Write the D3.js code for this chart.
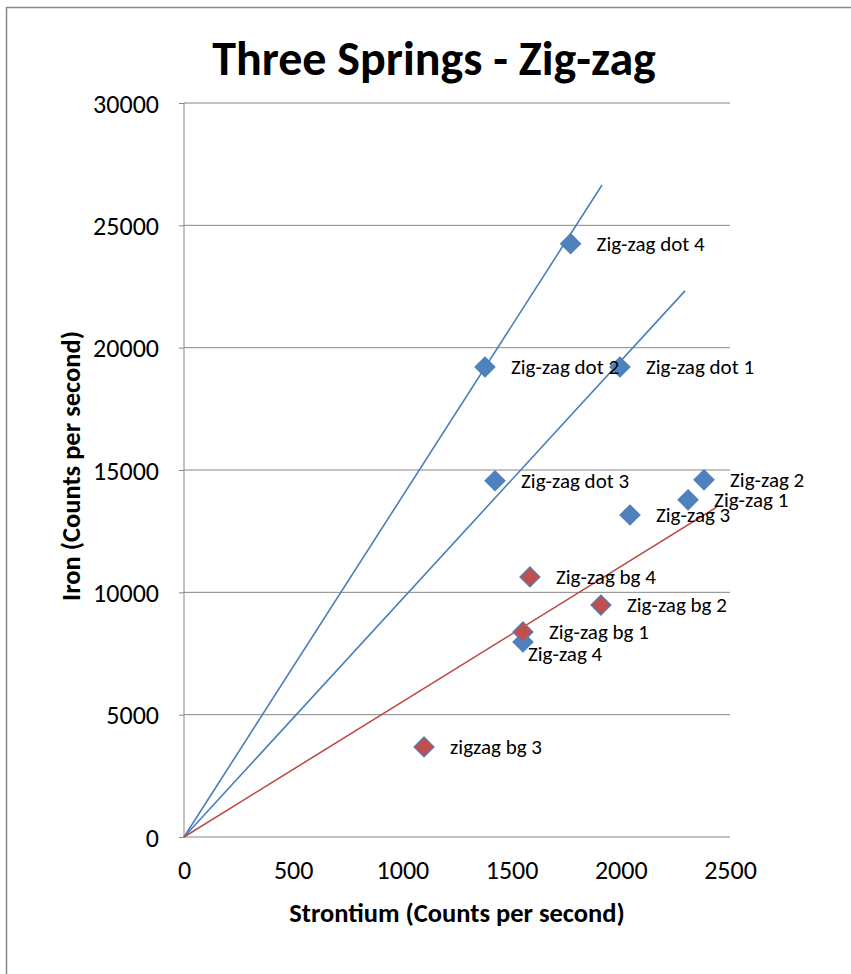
<!DOCTYPE html>
<html><head><meta charset="utf-8">
<script src="https://cdn.jsdelivr.net/npm/d3@7"></script>
<style>body{margin:0;background:#fff}svg{display:block}</style>
</head><body>
<script>
// ---- data ----
const blueNames = ["Zig-zag dot 4","Zig-zag dot 2","Zig-zag dot 1","Zig-zag dot 3","Zig-zag 2","Zig-zag 1","Zig-zag 3","Zig-zag 4"];
const blueX = [1770, 1378, 1996, 1424, 2381, 2308, 2042, 1552];
const blueY = [24250, 19210, 19210, 14560, 14600, 13780, 13160, 7970];
const redNames = ["Zig-zag bg 4","Zig-zag bg 2","Zig-zag bg 1","zigzag bg 3"];
const redX = [1584, 1909, 1552, 1099];
const redY = [10630, 9480, 8380, 3680];
// trendlines (through origin): end points
const trendEndX = [1914, 2294, 2440];
const trendEndY = [26650, 22320, 13490];
const trendColor = ["blue","blue","red"];
const xTicks = [0,500,1000,1500,2000,2500];
const yTicks = [0,5000,10000,15000,20000,25000,30000];

const W = 851, H = 974;
const font = "Carlito, Calibri, Lato, 'Open Sans', sans-serif";
const BLUE = "#4F81BD", RED = "#C0504D", GRID = "#868686";

const svg = d3.select("body").append("svg").attr("width", W).attr("height", H);

// outer frame
svg.append("rect").attr("x", 6.5).attr("y", 7.5).attr("width", 900).attr("height", 1000)
  .attr("fill", "none").attr("stroke", "#878787").attr("stroke-width", 1.5);

const x = d3.scaleLinear().domain([0, 2500]).range([184, 730]);
const y = d3.scaleLinear().domain([0, 30000]).range([837, 103]);

// gridlines
svg.append("g").selectAll("line").data(yTicks.filter(d => d > 0)).join("line")
  .attr("x1", x(0)).attr("x2", x(2500)).attr("y1", d => y(d)).attr("y2", d => y(d))
  .attr("stroke", GRID).attr("stroke-width", 1);

// y axis
const yAxis = svg.append("g").attr("transform", `translate(${x(0)},0)`)
  .call(d3.axisLeft(y).tickValues(yTicks).tickSize(5).tickPadding(20).tickFormat(d3.format("d")));
yAxis.select(".domain").attr("stroke", GRID).attr("d", `M-0,${y(30000)}V${y(0)}`);
yAxis.selectAll(".tick line").attr("stroke", GRID);
yAxis.selectAll("text").attr("font-family", font).attr("font-size", 26).attr("fill", "#000").attr("dy", "0.35em");

// x axis
const xAxis = svg.append("g").attr("transform", `translate(0,${y(0)})`)
  .call(d3.axisBottom(x).tickValues(xTicks).tickSize(0).tickPadding(24).tickFormat(d3.format("d")));
xAxis.select(".domain").attr("stroke", GRID).attr("d", `M${x(0)},0H${x(2500)}`);
xAxis.selectAll("text").attr("font-family", font).attr("font-size", 26).attr("fill", "#000");

// trendlines
svg.append("g").selectAll("line").data(trendEndX.map((d, i) => ({x: d, y: trendEndY[i], c: trendColor[i]}))).join("line")
  .attr("x1", x(0)).attr("y1", y(0)).attr("x2", d => x(d.x)).attr("y2", d => y(d.y))
  .attr("stroke", d => d.c === "red" ? "#BE4B48" : "#4A7EBB").attr("stroke-width", 1.6);

const blue = blueNames.map((n, i) => ({n, x: blueX[i], y: blueY[i]}));
const red = redNames.map((n, i) => ({n, x: redX[i], y: redY[i]}));

function drawPts(data, fill) {
  svg.append("g").selectAll("path").data(data).join("path")
    .attr("d", d3.symbol().type(d3.symbolSquare).size(200))
    .attr("transform", d => `translate(${x(d.x)},${y(d.y)}) rotate(45)`)
    .attr("fill", fill).attr("stroke", BLUE).attr("stroke-width", 1.2);
}
drawPts(blue, BLUE);
drawPts(red, RED);

function drawLabels(data) {
  svg.append("g").selectAll("text").data(data).join("text")
    .attr("x", d => x(d.x) + (d.n === "Zig-zag 4" ? 5 : 26))
    .attr("y", d => y(d.y) + (d.n === "Zig-zag 4" ? 12 : 0))
    .attr("dy", "0.33em")
    .attr("font-family", font).attr("font-size", 21).attr("fill", "#000")
    .text(d => d.n);
}
drawLabels(blue);
drawLabels(red);

// title
svg.append("text").attr("x", 434).attr("y", 75).attr("text-anchor", "middle")
  .attr("font-family", font).attr("font-weight", "bold").attr("font-size", 48)
  .text("Three Springs - Zig-zag");

// axis titles
svg.append("text").attr("x", 457).attr("y", 922).attr("text-anchor", "middle")
  .attr("font-family", font).attr("font-weight", "bold").attr("font-size", 26.5)
  .text("Strontium (Counts per second)");
svg.append("text").attr("transform", "translate(80,466) rotate(-90)").attr("text-anchor", "middle")
  .attr("font-family", font).attr("font-weight", "bold").attr("font-size", 26.5)
  .text("Iron (Counts per second)");
</script>
</body></html>
